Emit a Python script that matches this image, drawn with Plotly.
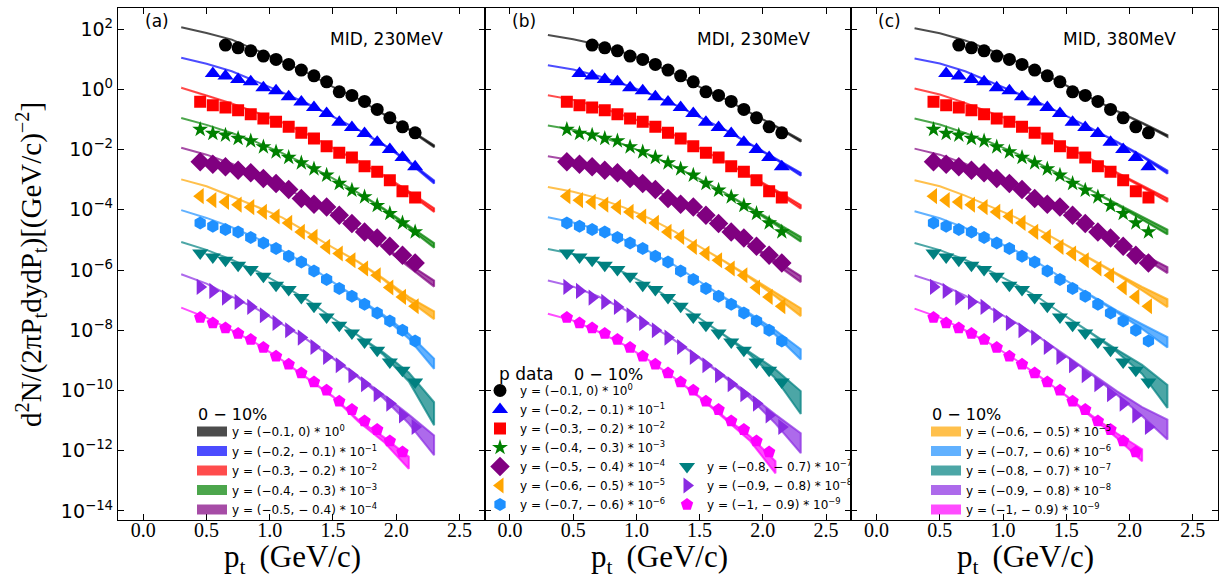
import numpy as np
import plotly.graph_objects as go
from plotly.subplots import make_subplots

# ---------------- data (p data, 0-10%), log10 of plotted values ----------------
pt_black = [0.65, 0.75, 0.85, 0.95, 1.05, 1.15, 1.25, 1.35, 1.45, 1.55, 1.65, 1.75, 1.85, 1.95, 2.05, 2.15]
pt_blue = [0.55, 0.65, 0.75, 0.85, 0.95, 1.05, 1.15, 1.25, 1.35, 1.45, 1.55, 1.65, 1.75, 1.85, 1.95, 2.05, 2.15]
pt_main = [0.45, 0.55, 0.65, 0.75, 0.85, 0.95, 1.05, 1.15, 1.25, 1.35, 1.45, 1.55, 1.65, 1.75, 1.85, 1.95, 2.05, 2.15]
pt_magenta = [0.45, 0.55, 0.65, 0.75, 0.85, 0.95, 1.05, 1.15, 1.25, 1.35, 1.45, 1.55, 1.65, 1.75, 1.85, 1.95, 2.05]

logy_black = [1.468, 1.379, 1.279, 1.103, 0.993, 0.827, 0.638, 0.449, 0.249, -0.083, -0.203, -0.402, -0.668, -0.947, -1.246, -1.445]
logy_blue = [0.528, 0.439, 0.329, 0.249, 0.05, -0.05, -0.249, -0.425, -0.601, -0.801, -1.09, -1.266, -1.465, -1.754, -1.997, -2.262, -2.575]
logy_red = [-0.415, -0.525, -0.601, -0.691, -0.824, -0.967, -1.08, -1.246, -1.445, -1.631, -1.887, -2.11, -2.262, -2.551, -2.741, -3.017, -3.382, -3.591]
logy_green = [-1.332, -1.465, -1.522, -1.631, -1.711, -1.91, -2.076, -2.262, -2.442, -2.641, -2.851, -3.126, -3.349, -3.571, -3.857, -4.123, -4.435, -4.734]
logy_purple = [-2.409, -2.485, -2.575, -2.684, -2.774, -2.96, -3.126, -3.326, -3.625, -3.814, -3.904, -4.179, -4.455, -4.734, -4.934, -5.209, -5.508, -5.764]
logy_orange = [-3.548, -3.681, -3.738, -3.831, -3.914, -4.07, -4.223, -4.435, -4.734, -4.9, -5.233, -5.452, -5.674, -5.95, -6.173, -6.581, -6.894, -7.203]
logy_dodger = [-4.435, -4.545, -4.654, -4.734, -4.92, -5.1, -5.286, -5.542, -5.731, -6.03, -6.316, -6.615, -6.87, -7.136, -7.425, -7.691, -8.0, -8.355]
logy_teal = [-5.432, -5.565, -5.674, -5.841, -5.983, -6.206, -6.505, -6.648, -6.914, -7.203, -7.558, -7.834, -8.09, -8.389, -8.664, -9.053, -9.329, -9.718]
logy_violet = [-6.561, -6.694, -6.914, -7.06, -7.226, -7.502, -7.757, -8.0, -8.243, -8.555, -8.887, -9.163, -9.495, -9.794, -10.126, -10.435, -10.824, -11.213]
logy_magenta = [-7.578, -7.757, -7.923, -8.11, -8.309, -8.575, -8.864, -9.13, -9.419, -9.718, -9.993, -10.359, -10.635, -11.013, -11.299, -11.678, -12.043]

# ---------------- model curves (log10), pt grid ----------------
grid = [0.3, 0.5, 0.7, 0.9, 1.1, 1.3, 1.5, 1.7, 1.9, 2.1, 2.3]
grid_m = [0.3, 0.5, 0.7, 0.9, 1.1, 1.3, 1.5, 1.7, 1.9, 2.1]

# panel (a) MID, 230MeV
a_black = [2.06, 1.87, 1.65, 1.30, 0.93, 0.54, 0.08, -0.32, -0.82, -1.33, -1.89]
a_blue = [1.05, 0.85, 0.60, 0.25, -0.10, -0.48, -0.90, -1.34, -1.84, -2.40, -3.08]
a_red = [0.05, -0.20, -0.47, -0.78, -1.10, -1.50, -1.95, -2.38, -2.86, -3.42, -4.01]
a_green = [-0.95, -1.18, -1.45, -1.76, -2.12, -2.52, -2.96, -3.44, -3.97, -4.56, -5.18]
a_purple = [-1.94, -2.17, -2.47, -2.83, -3.22, -3.66, -4.13, -4.65, -5.22, -5.85, -6.45]
a_orange = [-2.99, -3.22, -3.55, -3.90, -4.26, -4.75, -5.26, -5.73, -6.30, -6.95, -7.50]
a_dodger = [-4.01, -4.27, -4.58, -4.95, -5.36, -5.83, -6.40, -6.95, -7.52, -8.20, -9.11]
a_teal = [-5.07, -5.33, -5.66, -6.04, -6.50, -7.00, -7.60, -8.17, -8.78, -9.55, -10.77]
a_violet = [-6.14, -6.45, -6.88, -7.30, -7.80, -8.33, -8.93, -9.55, -10.20, -10.95, -11.82]
a_magenta = [-7.25, -7.58, -8.00, -8.45, -9.00, -9.60, -10.20, -11.00, -11.62, -12.40]

# panel (b) MDI, 230MeV
b_black = [1.80, 1.66, 1.48, 1.22, 0.90, 0.52, 0.08, -0.32, -0.78, -1.22, -1.71]
b_blue = [0.80, 0.66, 0.44, 0.17, -0.14, -0.50, -0.92, -1.34, -1.82, -2.30, -2.82]
b_red = [-0.20, -0.35, -0.58, -0.86, -1.16, -1.52, -1.96, -2.40, -2.88, -3.37, -3.90]
b_green = [-1.20, -1.34, -1.55, -1.83, -2.17, -2.55, -2.98, -3.44, -3.95, -4.45, -4.98]
b_purple = [-2.22, -2.36, -2.58, -2.88, -3.24, -3.67, -4.12, -4.62, -5.16, -5.73, -6.30]
b_orange = [-3.24, -3.40, -3.62, -3.92, -4.28, -4.72, -5.22, -5.72, -6.25, -6.82, -7.40]
b_dodger = [-4.25, -4.42, -4.66, -4.98, -5.38, -5.84, -6.38, -6.92, -7.48, -8.08, -8.80]
b_teal = [-5.30, -5.47, -5.73, -6.08, -6.52, -7.02, -7.60, -8.18, -8.78, -9.45, -10.40]
b_violet = [-6.35, -6.55, -6.88, -7.30, -7.80, -8.33, -8.92, -9.55, -10.20, -10.95, -11.75]
b_magenta = [-7.45, -7.68, -8.05, -8.48, -9.00, -9.58, -10.22, -10.92, -11.60, -12.55]

# panel (c) MID, 380MeV
c_black = [2.03, 1.86, 1.62, 1.30, 0.94, 0.55, 0.12, -0.30, -0.72, -1.12, -1.55]
c_blue = [1.02, 0.86, 0.60, 0.25, -0.10, -0.47, -0.88, -1.30, -1.75, -2.22, -2.75]
c_red = [0.03, -0.17, -0.45, -0.77, -1.09, -1.47, -1.90, -2.33, -2.78, -3.22, -3.68]
c_green = [-0.97, -1.17, -1.45, -1.76, -2.12, -2.50, -2.93, -3.36, -3.82, -4.28, -4.74]
c_purple = [-1.97, -2.17, -2.47, -2.83, -3.22, -3.64, -4.10, -4.57, -5.05, -5.52, -6.00]
c_orange = [-3.02, -3.22, -3.53, -3.88, -4.25, -4.70, -5.18, -5.65, -6.13, -6.62, -7.10]
c_dodger = [-4.05, -4.28, -4.60, -4.96, -5.36, -5.82, -6.35, -6.86, -7.38, -7.88, -8.40]
c_teal = [-5.10, -5.34, -5.66, -6.04, -6.48, -6.97, -7.55, -8.10, -8.68, -9.30, -10.20]
c_violet = [-6.18, -6.45, -6.85, -7.27, -7.75, -8.27, -8.86, -9.45, -10.08, -10.70, -11.30]
c_magenta = [-7.28, -7.58, -8.00, -8.45, -8.98, -9.56, -10.18, -10.85, -11.50, -12.15]

# model band half-widths (decades)
spread_black = [0, 0, 0, 0, 0, 0, 0, 0, 0, 0.01, 0.03]
spread_blue = [0, 0, 0, 0, 0, 0, 0, 0, 0.01, 0.02, 0.05]
spread_red = [0, 0, 0, 0, 0, 0, 0, 0, 0.01, 0.03, 0.06]
spread_green = [0, 0, 0, 0, 0, 0, 0, 0, 0.02, 0.04, 0.08]
spread_purple = [0, 0, 0, 0, 0, 0, 0, 0.01, 0.02, 0.05, 0.10]
spread_orange = [0, 0, 0, 0, 0, 0, 0, 0.01, 0.02, 0.06, 0.13]
spread_dodger = [0, 0, 0, 0, 0, 0, 0, 0.01, 0.03, 0.08, 0.17]
spread_teal = [0, 0, 0, 0, 0, 0, 0, 0.01, 0.04, 0.15, 0.38]
spread_violet = [0, 0, 0, 0, 0, 0, 0.01, 0.02, 0.06, 0.15, 0.33]
spread_magenta = [0, 0, 0, 0, 0, 0, 0.01, 0.03, 0.08, 0.20]

labels = [
    "y = (−0.1, 0) * 10<sup>0</sup>",
    "y = (−0.2, − 0.1) * 10<sup>−1</sup>",
    "y = (−0.3, − 0.2) * 10<sup>−2</sup>",
    "y = (−0.4, − 0.3) * 10<sup>−3</sup>",
    "y = (−0.5, − 0.4) * 10<sup>−4</sup>",
    "y = (−0.6, − 0.5) * 10<sup>−5</sup>",
    "y = (−0.7, − 0.6) * 10<sup>−6</sup>",
    "y = (−0.8, − 0.7) * 10<sup>−7</sup>",
    "y = (−0.9, − 0.8) * 10<sup>−8</sup>",
    "y = (−1, − 0.9) * 10<sup>−9</sup>",
]
ytick_exp = [2, 0, -2, -4, -6, -8, -10, -12, -14]
ytick_text = ["10<sup>2</sup>", "10<sup>0</sup>", "10<sup>−2</sup>", "10<sup>−4</sup>", "10<sup>−6</sup>",
              "10<sup>−8</sup>", "10<sup>−10</sup>", "10<sup>−12</sup>", "10<sup>−14</sup>"]
xtick_vals = [0.0, 0.5, 1.0, 1.5, 2.0, 2.5]
panel_tags = ["(a)", "(b)", "(c)"]
panel_titles = ["MID, 230MeV", "MDI, 230MeV", "MID, 380MeV"]

# ---------------- styles ----------------
rgb = [(0, 0, 0), (0, 0, 255), (255, 0, 0), (0, 128, 0), (128, 0, 128),
       (255, 165, 0), (30, 144, 255), (0, 128, 128), (138, 43, 226), (255, 0, 255)]
symbols = ["circle", "triangle-up", "square", "star", "diamond",
           "triangle-left", "hexagon", "triangle-down", "triangle-right", "pentagon"]
msizes = [13, 14, 12, 12, 15, 14, 13, 14, 14, 13]

data_x = [pt_black, pt_blue, pt_main, pt_main, pt_main, pt_main, pt_main, pt_main, pt_main, pt_magenta]
data_y = [logy_black, logy_blue, logy_red, logy_green, logy_purple, logy_orange,
          logy_dodger, logy_teal, logy_violet, logy_magenta]
models = [
    [a_black, a_blue, a_red, a_green, a_purple, a_orange, a_dodger, a_teal, a_violet, a_magenta],
    [b_black, b_blue, b_red, b_green, b_purple, b_orange, b_dodger, b_teal, b_violet, b_magenta],
    [c_black, c_blue, c_red, c_green, c_purple, c_orange, c_dodger, c_teal, c_violet, c_magenta],
]
spreads = [spread_black, spread_blue, spread_red, spread_green, spread_purple,
           spread_orange, spread_dodger, spread_teal, spread_violet, spread_magenta]


def rgba(c, a):
    return "rgba(%d,%d,%d,%s)" % (c[0], c[1], c[2], a)


fig = make_subplots(rows=1, cols=3, shared_yaxes=True, horizontal_spacing=0)

for p in range(3):
    col = p + 1
    for k in range(10):
        fig.add_trace(go.Scatter(
            x=data_x[k], y=np.power(10.0, data_y[k]), mode="markers",
            marker=dict(symbol=symbols[k], size=msizes[k], color=rgba(rgb[k], 1), line=dict(width=0)),
            name=labels[k], showlegend=(p == 1),
            legend=("legend2" if k < 7 else "legend3"),
            legendgroup="d%d" % k,
        ), row=1, col=col)
    for k in range(10):
        g = grid_m if k == 9 else grid
        c = np.array(models[p][k])
        s = np.array(spreads[k])
        up = np.power(10.0, c + s)
        lo = np.power(10.0, c - s)
        xs = list(g) + list(g[::-1])
        ys = list(up) + list(lo[::-1])
        fig.add_trace(go.Scatter(
            x=xs, y=ys, mode="lines", fill="toself",
            fillcolor=rgba(rgb[k], 0.7), line=dict(color=rgba(rgb[k], 0.7), width=2),
            showlegend=False, hoverinfo="skip",
        ), row=1, col=col)

for k in range(10):
    fig.add_trace(go.Scatter(
        x=[None], y=[None], mode="lines",
        line=dict(color=rgba(rgb[k], 0.7), width=10),
        name=labels[k], showlegend=True,
        legend=("legend" if k < 5 else "legend4"),
        legendgroup="m%d" % k,
    ), row=1, col=(1 if k < 5 else 3))

axis_font = dict(family="DejaVu Sans", size=19, color="black")
for i in range(1, 4):
    xa = "xaxis" if i == 1 else "xaxis%d" % i
    ya = "yaxis" if i == 1 else "yaxis%d" % i
    fig.layout[xa].update(
        range=[-0.2, 2.7], tickmode="array", tickvals=xtick_vals,
        ticktext=["%.1f" % v for v in xtick_vals],
        ticks="inside", ticklen=6, tickwidth=1, tickcolor="black",
        showline=True, linecolor="black", linewidth=1.3, mirror="allticks",
        showgrid=False, zeroline=False, ticklabelstandoff=-8,
        tickfont=dict(family="Liberation Serif", size=20, color="black"),
    )
    fig.layout[ya].update(
        type="log", range=[-14.3, 2.70], tickmode="array",
        tickvals=[10.0 ** e for e in ytick_exp], ticktext=ytick_text,
        ticks="inside", ticklen=6, tickwidth=1, tickcolor="black",
        showline=True, linecolor="black", linewidth=1.3, mirror="allticks",
        showgrid=False, zeroline=False, tickfont=axis_font,
        showticklabels=(i == 1),
    )


def px_x(px):
    return (px - 118) / 1100


def px_y(py):
    return (520 - py) / 512


annotations = []
pw = 1.0 / 3.0
for p in range(3):
    x0 = p * pw
    annotations.append(dict(text=panel_tags[p], xref="paper", yref="paper",
                            x=x0 + 25 / 1100, y=px_y(21), xanchor="left", yanchor="middle",
                            showarrow=False, font=dict(family="DejaVu Sans", size=17, color="black")))
    annotations.append(dict(text=panel_titles[p], xref="paper", yref="paper",
                            x=x0 + 327 / 1100, y=px_y(39), xanchor="right", yanchor="middle",
                            showarrow=False, font=dict(family="DejaVu Sans", size=17, color="black")))
    annotations.append(dict(text="p<sub>t</sub>\u2009 (GeV/c)", xref="paper", yref="paper",
                            x=x0 + pw / 2 - 9 / 1100, y=px_y(559), xanchor="center", yanchor="middle",
                            showarrow=False, font=dict(family="Liberation Serif", size=31, color="black")))
annotations.append(dict(text="d<sup>2</sup>N/(2πP<sub>t</sub>dydP<sub>t</sub>)[(GeV/c)<sup>−2</sup>]",
                        xref="paper", yref="paper", x=px_x(31), y=px_y(265),
                        xanchor="center", yanchor="middle", textangle=-90, showarrow=False,
                        font=dict(family="Liberation Serif", size=29, color="black")))
# legend titles
ltitle_font = dict(family="DejaVu Sans", size=16, color="black")
annotations.append(dict(text="0 − 10%", xref="paper", yref="paper", x=px_x(196), y=px_y(414),
                        xanchor="left", yanchor="middle", showarrow=False, font=ltitle_font))
annotations.append(dict(text="0 − 10%", xref="paper", yref="paper", x=px_x(930), y=px_y(414),
                        xanchor="left", yanchor="middle", showarrow=False, font=ltitle_font))
annotations.append(dict(text="p data", xref="paper", yref="paper", x=px_x(497), y=px_y(374),
                        xanchor="left", yanchor="middle", showarrow=False,
                        font=dict(family="DejaVu Sans", size=17, color="black")))
annotations.append(dict(text="0 − 10%", xref="paper", yref="paper", x=px_x(572), y=px_y(374),
                        xanchor="left", yanchor="middle", showarrow=False, font=ltitle_font))

leg_font = dict(family="DejaVu Sans", size=12, color="black")
fig.update_layout(
    width=1223, height=580,
    margin=dict(l=118, r=5, t=8, b=60),
    paper_bgcolor="white", plot_bgcolor="white",
    annotations=annotations,
    legend=dict(x=px_x(192), y=px_y(417), xanchor="left", yanchor="top",
                bgcolor="rgba(0,0,0,0)", font=leg_font, tracegroupgap=0.5),
    legend2=dict(x=px_x(480), y=px_y(376), xanchor="left", yanchor="top",
                 bgcolor="rgba(0,0,0,0)", font=leg_font, tracegroupgap=0),
    legend3=dict(x=px_x(667), y=px_y(452), xanchor="left", yanchor="top",
                 bgcolor="rgba(0,0,0,0)", font=leg_font, tracegroupgap=0),
    legend4=dict(x=px_x(926), y=px_y(417), xanchor="left", yanchor="top",
                 bgcolor="rgba(0,0,0,0)", font=leg_font, tracegroupgap=0.5),
)

fig.write_html("out.html")
